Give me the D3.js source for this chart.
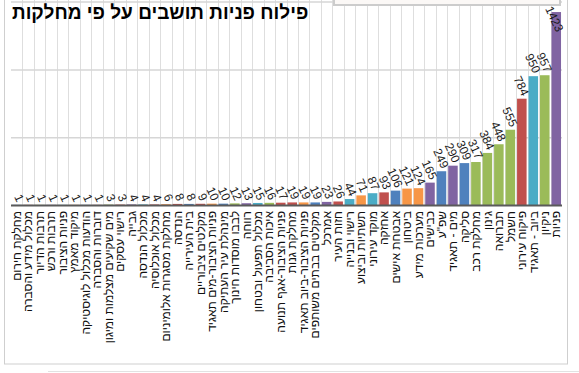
<!doctype html>
<html>
<head>
<meta charset="utf-8">
<style>
    body {
        margin: 0;
        background: #fff;
        font-family: 'Liberation Sans', Arial, sans-serif;
    }
    svg {
        display: block;
    }
    .vgrid line {
        stroke: #dedede;
        stroke-width: 1;
    }
    .hgrid line {
        stroke: #d6d6d6;
        stroke-width: 1.5;
    }
    .hgrid path {
        stroke-width: 0;
    }
    text.title {
        font-size: 19px;
        font-weight: bold;
        fill: #000;
    }
    text.value {
        font-size: 12px;
        fill: #1a1a1a;
    }
    text.cat {
        font-size: 12px;
        fill: #111;
    }
</style>
<script src="https://d3js.org/d3.v7.min.js"></script>
</head>
<body>
<svg width="579" height="373"></svg>
<script>
    const categories = [
        'מחלקת חירום', 'מכלול מידע והסברה', 'תרבות הדיור', 'תרבות ורכש',
        'פניות הציבור', 'מיקוד מאמץ', 'הודעות מכלול לוגיסטיקה', 'דוברות והסברה',
        'מים שקיעים מצלמות ומיגון', 'רישוי עסקים', 'גבייה', 'מכלול הנדסה',
        'מכלול אוכלוסיה', 'מחלקת מסגרות אלומיניום', 'הנדסה', 'בית העירייה',
        'מקלטים ציבוריים', 'פניות הציבור-מים תאגיד', 'מינהלת עיר העתיקה', 'לבבו מוסדות חינוך',
        'רווחה', 'מכלול תפעול ובטחון', 'איכות הסביבה', 'פניות הציבור-אגף תנועה',
        'מחלקת גנות', 'פניות הציבור-ביוב תאגיד', 'מקלטים בבתים משותפים', 'אמרכל',
        'חזות העיר', 'רישוי ובנייה', 'תשתיות וביצוע', 'מוקד עירוני',
        'אחזקה', 'אבטחת אישים', 'ביטחון', 'מערכות מידע',
        'כבישים', 'שפ"ע', 'מים - תאגיד', 'סליקה',
        'מחלקת רכב', 'גינון', 'תברואה', 'חשמל',
        'פיקוח עירוני', 'ביוב - תאגיד', 'ניקיון', 'פניות'
    ];

    const values = [
        1, 1, 1, 1, 1, 1, 1, 1,
        3, 3, 4, 4, 4, 6, 8, 8,
        9, 10, 10, 12, 13, 15, 16, 17,
        19, 19, 19, 23, 26, 44, 71, 87,
        93, 106, 121, 124, 165, 249, 290, 309,
        317, 384, 448, 555, 784, 950, 957, 1423
    ];

    const gridTicks = [500, 1000, 1500];

    const barColors = [
        '#4F81BD', '#C0504D', '#9BBB59', '#8064A2', '#4BACC6', '#F79646', '#4F81BD', '#C0504D',
        '#9BBB59', '#C0504D', '#8064A2', '#4BACC6', '#C0504D', '#F79646', '#C0504D', '#4F81BD',
        '#C0504D', '#F79646', '#4F81BD', '#9BBB59', '#8064A2', '#4BACC6', '#9BBB59', '#C0504D',
        '#C0504D', '#F79646', '#4F81BD', '#8064A2', '#C0504D', '#4BACC6', '#F79646', '#4BACC6',
        '#C0504D', '#4F81BD', '#F79646', '#F79646', '#8064A2', '#4F81BD', '#8064A2', '#4F81BD',
        '#9BBB59', '#9BBB59', '#9BBB59', '#9BBB59', '#C0504D', '#4BACC6', '#9BBB59', '#8064A2'
    ];

    const data = categories.map((c, i) => ({ name: c, value: values[i], color: barColors[i] }));

    const svg = d3.select('svg');

    const plotLeft = 11, plotRight = 562, plotTop = 1.6, plotBottom = 205;

    // page frame around the chart
    svg.append('rect')
        .attr('x', 4.5).attr('y', -2)
        .attr('width', 563).attr('height', 366)
        .attr('fill', 'none')
        .attr('stroke', '#cfcfcf');

    svg.append('line')
        .attr('x1', 48).attr('x2', 579)
        .attr('y1', 371.5).attr('y2', 371.5)
        .attr('stroke', '#e2e2e2');

    const x = d3.scaleBand()
        .domain(categories)
        .range([plotLeft, plotRight])
        .paddingInner(0.17)
        .paddingOuter(0.085);

    const y = d3.scaleLinear()
        .domain([0, 1500])
        .range([plotBottom, plotTop]);

    const step = x.step();
    const gap = (step - x.bandwidth()) / 2;

    // vertical grid at category boundaries
    svg.append('g')
        .attr('class', 'vgrid')
        .selectAll('line')
        .data(categories.slice(1))
        .join('line')
        .attr('x1', d => Math.round(x(d) - gap) + 0.5)
        .attr('x2', d => Math.round(x(d) - gap) + 0.5)
        .attr('y1', 0)
        .attr('y2', plotBottom);

    // horizontal grid
    svg.append('g')
        .attr('class', 'hgrid')
        .attr('transform', `translate(${plotLeft},0)`)
        .call(d3.axisLeft(y)
            .tickValues(gridTicks)
            .tickSize(-(plotRight - plotLeft))
            .tickFormat(''));

    // bars
    svg.append('g')
        .selectAll('rect')
        .data(data)
        .join('rect')
        .attr('x', d => x(d.name))
        .attr('y', d => y(d.value))
        .attr('width', x.bandwidth())
        .attr('height', d => plotBottom - y(d.value))
        .attr('fill', d => d.color);

    // baseline
    svg.append('line')
        .attr('x1', plotLeft).attr('x2', plotRight)
        .attr('y1', plotBottom + 0.5).attr('y2', plotBottom + 0.5)
        .attr('stroke', '#5a5a5a')
        .attr('stroke-width', 2);

    // value labels, slanted
    const labelPos = (d, shift) =>
        `translate(${x(d.name) + x.bandwidth() / 2},${y(d.value) - 2 + shift}) rotate(65)`;

    const labels = svg.append('g')
        .selectAll('text')
        .data(data)
        .join('text')
        .attr('class', 'value')
        .attr('text-anchor', 'end')
        .attr('transform', d => labelPos(d, 0))
        .text(d => d.value);

    // keep labels inside the plot
    labels.each(function (d) {
        const b = this.getBoundingClientRect();
        if (b.top < 4) {
            d3.select(this).attr('transform', labelPos(d, 4 - b.top));
        }
    });

    // category labels
    svg.append('g')
        .selectAll('text')
        .data(data)
        .join('text')
        .attr('class', 'cat')
        .attr('text-anchor', 'end')
        .attr('dy', '0.35em')
        .attr('transform', d => `translate(${x(d.name) + x.bandwidth() / 2},211) rotate(-90)`)
        .text(d => d.name);

    // box at the top right
    svg.append('rect')
        .attr('x', 334).attr('y', -4)
        .attr('width', 226).attr('height', 9)
        .attr('fill', '#fbf8f6')
        .attr('stroke', '#cccccc')
        .attr('stroke-width', 2);

    svg.append('text')
        .attr('class', 'title')
        .attr('x', 12)
        .attr('y', 19)
        .text('פילוח פניות תושבים על פי מחלקות');
</script>
</body>
</html>
